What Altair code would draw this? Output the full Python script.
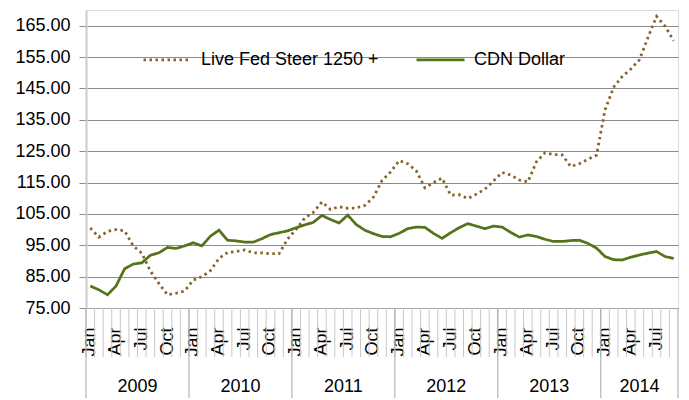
import altair as alt
import pandas as pd

years = [2009, 2010, 2011, 2012, 2013, 2014]
month_names = ["Jan", "Feb", "Mar", "Apr", "May", "Jun",
               "Jul", "Aug", "Sep", "Oct", "Nov", "Dec"]
shown_months = ["Jan", "Apr", "Jul", "Oct"]
n_months = 69  # Jan 2009 .. Sep 2014

series_names = ["Live Fed Steer 1250 +", "CDN Dollar"]

steer = [100.5, 97.6, 99.4, 100.0, 99.6, 94.8, 92.5, 86.8, 82.8, 79.2, 79.7, 80.4,
         83.9, 85.0, 86.9, 90.8, 92.7, 93.0, 93.5, 92.6, 92.6, 92.3, 92.3, 97.0,
         100.1, 103.7, 105.5, 108.8, 106.4, 107.3, 106.8, 106.9, 107.7, 110.3, 115.6, 118.4,
         122.0, 121.0, 118.7, 113.3, 115.0, 116.4, 111.0, 111.1, 109.9, 111.3, 112.9, 115.5,
         118.2, 117.4, 115.8, 115.2, 121.6, 124.5, 123.9, 123.8, 120.1, 121.0, 122.4, 123.7,
         138.2, 145.4, 148.8, 151.2, 154.1, 161.2, 168.0, 164.8, 160.2]

cdn = [82.0, 80.8, 79.2, 82.0, 87.5, 89.0, 89.4, 91.8, 92.6, 94.3, 94.0, 94.8,
       95.8, 94.8, 97.9, 99.8, 96.6, 96.4, 96.0, 96.0, 97.1, 98.4, 99.0, 99.6,
       100.6, 101.5, 102.3, 104.5, 103.2, 102.1, 104.6, 101.6, 99.8, 98.7, 97.8, 97.7,
       98.8, 100.3, 100.8, 100.7, 98.8, 97.2, 99.0, 100.6, 101.9, 101.1, 100.3, 101.1,
       100.8, 99.1, 97.6, 98.3, 97.8, 96.9, 96.2, 96.2, 96.5, 96.6, 95.6, 94.1,
       91.4, 90.4, 90.3, 91.2, 91.9, 92.5, 93.0, 91.4, 90.8]

y_ticks = [75, 85, 95, 105, 115, 125, 135, 145, 155, 165]

keys = [f"{y}-{m}" for y in years for m in month_names][:n_months]

W, H = 592, 298
FONT = "Liberation Sans"
STEER_COLOR = "#86612B"
CDN_COLOR = "#56731B"

df = pd.DataFrame({
    "month": keys * 2,
    "series": [series_names[0]] * n_months + [series_names[1]] * n_months,
    "value": steer + cdn,
})

xscale = alt.Scale(domain=keys, type="band", paddingInner=0, paddingOuter=0)

label_expr = ("indexof(['Jan','Apr','Jul','Oct'], split(datum.value, '-')[1]) >= 0"
              " ? split(datum.value, '-')[1] : ''")

legend_cfg = dict(orient="none", legendX=56, legendY=24,
                  direction="horizontal", symbolType="stroke",
                  symbolSize=2304, symbolStrokeWidth=2.75,
                  labelFontSize=18, labelFont=FONT,
                  labelColor="black", labelOffset=8,
                  columnPadding=32, labelLimit=400, title=None)

lines = alt.Chart(df).mark_line(strokeWidth=2.75, strokeCap="butt").encode(
    x=alt.X("month:O", scale=xscale, bandPosition=0.5,
            axis=alt.Axis(labelExpr=label_expr, labelAngle=270, ticks=False,
                          tickSize=0, grid=False, labelPadding=19,
                          labelFontSize=18, labelColor="black", labelFont=FONT,
                          labelOverlap=False, labelBound=False,
                          domainColor="#a6a6a6", domainWidth=1, title=None)),
    y=alt.Y("value:Q", scale=alt.Scale(domain=[75, 170], nice=False, zero=False),
            axis=alt.Axis(values=y_ticks, format=".2f", labelFontSize=18,
                          labelColor="black", labelFont=FONT, labelPadding=9,
                          tickSize=7, tickColor="#8c8c8c", gridColor="#8c8c8c",
                          gridWidth=1, domainColor="#cccccc", domainWidth=2,
                          title=None)),
    color=alt.Color("series:N",
                    scale=alt.Scale(domain=series_names,
                                    range=[STEER_COLOR, CDN_COLOR]),
                    legend=alt.Legend(**legend_cfg)),
    strokeDash=alt.StrokeDash("series:N",
                              scale=alt.Scale(domain=series_names,
                                              range=[[2.5, 3.5], [1, 0]]),
                              legend=alt.Legend(**legend_cfg)),
)

month_df = pd.DataFrame({"month": keys})
month_ticks = alt.Chart(month_df).mark_rule(color="#c8c8c8", strokeWidth=1).encode(
    x=alt.X("month:O", scale=xscale, bandPosition=0),
    y=alt.value(H),
    y2=alt.value(H + 49),
)

year_start_df = pd.DataFrame({"month": [f"{y}-Jan" for y in years]})
year_lines = alt.Chart(year_start_df).mark_rule(color="#a6a6a6", strokeWidth=1).encode(
    x=alt.X("month:O", scale=xscale, bandPosition=0),
    y=alt.value(H),
    y2=alt.value(H + 100),
)
end_df = pd.DataFrame({"month": [keys[-1]]})
end_line = alt.Chart(end_df).mark_rule(color="#a6a6a6", strokeWidth=1).encode(
    x=alt.X("month:O", scale=xscale, bandPosition=1),
    y=alt.value(H),
    y2=alt.value(H + 100),
)

full_years_df = pd.DataFrame({"month": [f"{y}-Jul" for y in years[:-1]],
                              "label": [str(y) for y in years[:-1]]})
year_text = alt.Chart(full_years_df).mark_text(
    fontSize=18, font=FONT, color="black", baseline="middle", align="center"
).encode(
    x=alt.X("month:O", scale=xscale, bandPosition=0),
    y=alt.value(H + 79),
    text="label:N",
)
last_year_df = pd.DataFrame({"month": ["2014-May"], "label": ["2014"]})
last_year_text = alt.Chart(last_year_df).mark_text(
    fontSize=18, font=FONT, color="black", baseline="middle", align="center"
).encode(
    x=alt.X("month:O", scale=xscale, bandPosition=0.5),
    y=alt.value(H + 79),
    text="label:N",
)

chart = alt.layer(
    lines, month_ticks, year_lines, end_line, year_text, last_year_text
).properties(
    width=W, height=H,
    autosize=alt.AutoSizeParams(type="none"),
    padding={"left": 78, "top": 2, "right": 3, "bottom": 90},
).configure_view(strokeWidth=0).configure(font=FONT, background="white")

chart.save("out.html", embed_options={"renderer": "svg", "actions": False})
